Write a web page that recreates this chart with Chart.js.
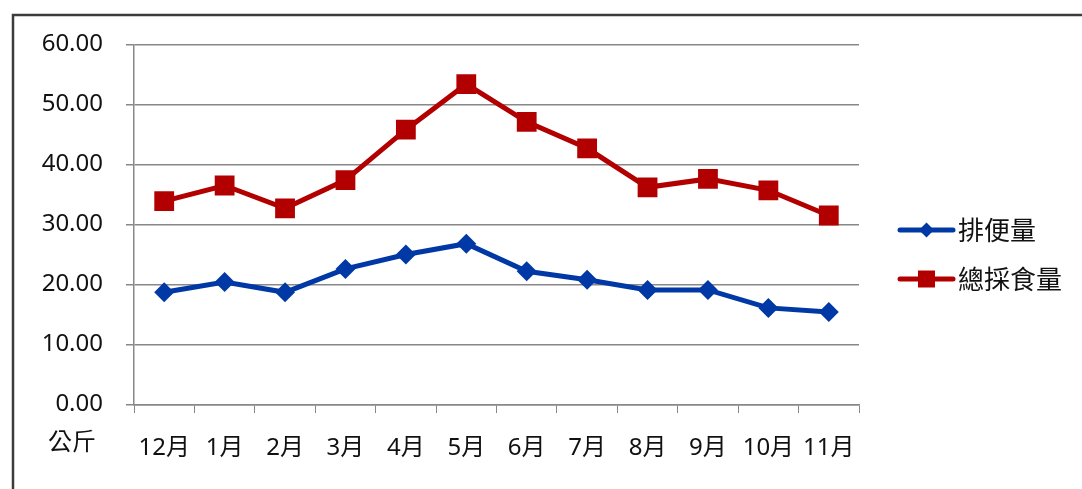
<!DOCTYPE html>
<html>
<head>
<meta charset="utf-8">
<script src="https://cdn.jsdelivr.net/npm/chart.js@4/dist/chart.umd.min.js"></script>
<style>
    html, body { margin: 0; padding: 0; background: #fff; }
    #wrap { position: relative; width: 1082px; height: 489px; }
</style>
</head>
<body>
<div id="wrap"><canvas id="feedChart" width="1082" height="489"></canvas></div>
<script>
// Chart data
const months = ['12月', '1月', '2月', '3月', '4月', '5月', '6月', '7月', '8月', '9月', '10月', '11月'];
const stoolAmount = [18.7, 20.4, 18.7, 22.6, 25.0, 26.8, 22.2, 20.8, 19.1, 19.1, 16.1, 15.4];
const totalIntake = [33.9, 36.5, 32.7, 37.4, 45.8, 53.4, 47.1, 42.7, 36.2, 37.6, 35.7, 31.5];
const seriesNames = ['排便量', '總採食量'];
const unitLabel = '公斤';

const BLUE = '#0039a6';
const RED = '#b20000';
const GRID = '#888888';
const TEXT = '#111111';
const FONT = '"Noto Sans", "Noto Sans CJK TC", sans-serif';

// Frame, unit label and legend are drawn by hand
const decorPlugin = {
    id: 'decor',
    beforeDraw(chart) {
        const ctx = chart.ctx;
        ctx.save();
        ctx.strokeStyle = '#3c3c3c';
        ctx.lineWidth = 2.5;
        ctx.beginPath();
        ctx.moveTo(13, 489);
        ctx.lineTo(13, 15);
        ctx.lineTo(1082, 15);
        ctx.stroke();
        ctx.restore();
    },
    afterDraw(chart) {
        const ctx = chart.ctx;
        const area = chart.chartArea;
        ctx.save();

        // unit under the y axis
        ctx.fillStyle = TEXT;
        ctx.font = '24px "Noto Sans CJK TC"';
        ctx.textAlign = 'right';
        ctx.textBaseline = 'middle';
        ctx.fillText(unitLabel, area.left - 38, 441);

        // legend
        const rows = [
            { name: seriesNames[0], color: BLUE, shape: 'diamond' },
            { name: seriesNames[1], color: RED, shape: 'square' }
        ];
        const x0 = area.right + 41;
        const x1 = x0 + 53;
        rows.forEach((row, i) => {
            const y = 230 + i * 49;
            ctx.strokeStyle = row.color;
            ctx.fillStyle = row.color;
            ctx.lineWidth = 5;
            ctx.lineCap = 'round';
            ctx.beginPath();
            ctx.moveTo(x0, y);
            ctx.lineTo(x1, y);
            ctx.stroke();
            const cx = (x0 + x1) / 2;
            ctx.beginPath();
            if (row.shape === 'diamond') {
                ctx.moveTo(cx - 7.5, y);
                ctx.lineTo(cx, y - 7.5);
                ctx.lineTo(cx + 7.5, y);
                ctx.lineTo(cx, y + 7.5);
            } else {
                ctx.rect(cx - 8.5, y - 8.5, 17, 17);
            }
            ctx.closePath();
            ctx.fill();
            ctx.fillStyle = TEXT;
            ctx.font = '26px "Noto Sans CJK TC"';
            ctx.textAlign = 'left';
            ctx.textBaseline = 'middle';
            ctx.fillText(row.name, x1 + 5, y);
        });
        ctx.restore();
    }
};

const ctx = document.getElementById('feedChart').getContext('2d');
new Chart(ctx, {
    type: 'line',
    data: {
        labels: months,
        datasets: [
            {
                label: seriesNames[0],
                data: stoolAmount,
                borderColor: BLUE,
                backgroundColor: BLUE,
                borderWidth: 5,
                pointStyle: 'rectRot',
                pointRadius: 10,
                pointHoverRadius: 10,
                pointBorderWidth: 0,
                tension: 0
            },
            {
                label: seriesNames[1],
                data: totalIntake,
                borderColor: RED,
                backgroundColor: RED,
                borderWidth: 5,
                pointStyle: 'rect',
                pointRadius: 14,
                pointHoverRadius: 14,
                pointBorderWidth: 0,
                tension: 0
            }
        ]
    },
    options: {
        responsive: false,
        animation: false,
        layout: {
            padding: { left: 0, right: 223, top: 44.5, bottom: 0 }
        },
        plugins: {
            legend: { display: false },
            tooltip: { enabled: false }
        },
        scales: {
            x: {
                offset: true,
                grid: {
                    offset: true,
                    drawOnChartArea: false,
                    drawTicks: true,
                    tickLength: 8.5,
                    color: GRID
                },
                border: { color: GRID, width: 1.5 },
                ticks: {
                    color: TEXT,
                    font: { family: FONT, size: 24 },
                    padding: 21,
                    maxRotation: 0,
                    autoSkip: false
                },
                afterFit(scale) {
                    scale.height = 84.5;
                }
            },
            y: {
                min: 0,
                max: 60,
                grid: {
                    color: GRID,
                    lineWidth: 1.5,
                    tickLength: 8
                },
                border: { color: GRID, width: 1.5 },
                ticks: {
                    stepSize: 10,
                    color: TEXT,
                    font: { family: FONT, size: 24 },
                    padding: 23,
                    callback: (value) => value.toFixed(2)
                },
                afterFit(scale) {
                    scale.width = 134;
                }
            }
        }
    },
    plugins: [decorPlugin]
});
</script>
</body>
</html>
